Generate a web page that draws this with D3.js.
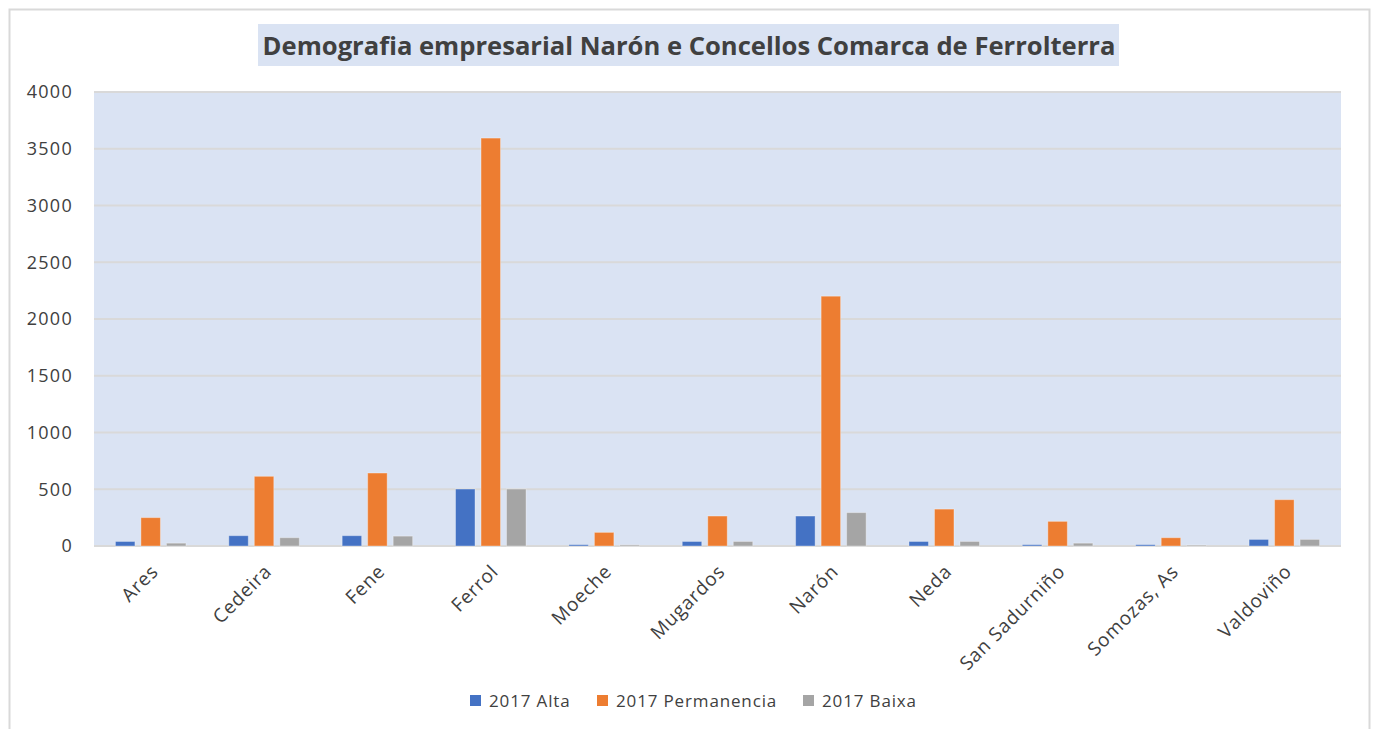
<!DOCTYPE html>
<html>
<head>
<meta charset="utf-8">
<script src="https://cdn.jsdelivr.net/npm/d3@7/dist/d3.min.js"></script>
<style>
  html, body { margin: 0; padding: 0; background: #fff; }
  svg { display: block; font-family: "Open Sans", sans-serif; }
</style>
</head>
<body>
<svg id="chart" width="1374" height="729"></svg>
<script>
'use strict';

/* ── Data ── */
const concellos = ['Ares', 'Cedeira', 'Fene', 'Ferrol', 'Moeche', 'Mugardos', 'Narón', 'Neda', 'San Sadurniño', 'Somozas, As', 'Valdoviño'];
const alta        = [40, 91, 91, 502, 12, 40, 264, 40, 12, 12, 58];
const permanencia = [250, 614, 643, 3594, 120, 264, 2201, 325, 217, 73, 408];
const baixa       = [25, 73, 87, 502, 10, 40, 294, 40, 25, 8, 58];
const seriesNames = ['2017 Alta', '2017 Permanencia', '2017 Baixa'];
const seriesColors = ['#4472c4', '#ed7d31', '#a5a5a5'];
const yTicks = [0, 500, 1000, 1500, 2000, 2500, 3000, 3500, 4000];

const series = [alta, permanencia, baixa];

const svg = d3.select('#chart');
const plot = { left: 94, right: 1341, top: 92, bottom: 546 };

/* ── Outer frame ── */
svg.append('rect')
  .attr('x', 9.5).attr('y', 9.5)
  .attr('width', 1360).attr('height', 740)
  .attr('fill', '#fff')
  .attr('stroke', '#d9d9d9').attr('stroke-width', 2);

/* ── Title ── */
svg.append('rect')
  .attr('x', 258).attr('y', 24).attr('width', 861).attr('height', 42)
  .attr('fill', '#dae3f3');
svg.append('text')
  .attr('x', 689).attr('y', 55)
  .attr('text-anchor', 'middle')
  .style('font-size', '25.6px').style('font-weight', 'bold')
  .style('fill', '#404040')
  .text('Demografia empresarial Narón e Concellos Comarca de Ferrolterra');

/* ── Scales ── */
const x = d3.scaleBand().domain(concellos).range([plot.left, plot.right]);
const y = d3.scaleLinear().domain([0, 4000]).range([plot.bottom, plot.top]);

/* ── Plot background ── */
svg.append('rect')
  .attr('x', plot.left).attr('y', plot.top)
  .attr('width', plot.right - plot.left).attr('height', plot.bottom - plot.top)
  .attr('fill', '#dae3f3');

/* ── Gridlines ── */
svg.append('g')
  .selectAll('line')
  .data(yTicks)
  .join('line')
  .attr('x1', plot.left).attr('x2', plot.right)
  .attr('y1', d => y(d)).attr('y2', d => y(d))
  .attr('stroke', '#d9d9d9').attr('stroke-width', 2);

/* ── Y axis labels ── */
const yAxis = svg.append('g')
  .attr('transform', `translate(${plot.left},0)`)
  .call(d3.axisLeft(y).tickValues(yTicks).tickFormat(d3.format('d')).tickSize(0).tickPadding(21));
yAxis.select('.domain').remove();
yAxis.selectAll('text')
  .style('font-size', '18px')
  .style('letter-spacing', '1.3px')
  .style('font-family', '"Open Sans", sans-serif')
  .style('fill', '#404040');

/* ── Bars ── */
const bw = x.bandwidth() * 0.172;
const step = x.bandwidth() * 0.225;
series.forEach((vals, si) => {
  svg.append('g')
    .selectAll('rect')
    .data(vals)
    .join('rect')
    .attr('x', (d, i) => x(concellos[i]) + x.bandwidth() / 2 + (si - 1) * step - bw / 2)
    .attr('y', d => y(d))
    .attr('width', bw)
    .attr('height', d => y(0) - y(d))
    .attr('fill', seriesColors[si])
    .attr('stroke', 'rgba(255,255,255,0.35)')
    .attr('stroke-width', 1);
});

/* ── X axis labels ── */
svg.append('g')
  .selectAll('text')
  .data(concellos)
  .join('text')
  .attr('transform', d => `translate(${x(d) + x.bandwidth() / 2 + 4},${plot.bottom + 22}) rotate(-45)`)
  .attr('text-anchor', 'end')
  .attr('dy', '0.35em')
  .style('font-size', '19px')
  .style('letter-spacing', '0.8px')
  .style('fill', '#404040')
  .text(d => d);

/* ── Legend ── */
const legendX = [470, 597, 803];
const legend = svg.append('g');
seriesNames.forEach((name, i) => {
  legend.append('rect')
    .attr('x', legendX[i]).attr('y', 695)
    .attr('width', 11).attr('height', 11)
    .attr('fill', seriesColors[i]);
  legend.append('text')
    .attr('x', legendX[i] + 19).attr('y', 701)
    .attr('dy', '0.35em')
    .style('font-size', '17px')
    .style('letter-spacing', '0.85px')
    .style('fill', '#404040')
    .text(name);
});
</script>
</body>
</html>
